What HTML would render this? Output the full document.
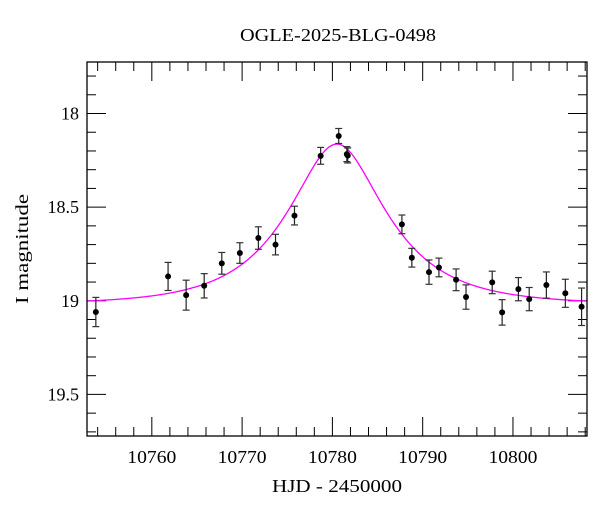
<!DOCTYPE html>
<html><head><meta charset="utf-8">
<style>
html,body{margin:0;padding:0;background:#fff;}
svg{display:block;font-family:"Liberation Serif",serif;}
</style></head>
<body>
<svg id="chart" width="600" height="512" viewBox="0 0 600 512" xmlns="http://www.w3.org/2000/svg">
<text x="338" y="41" text-anchor="middle" font-size="18" textLength="196" lengthAdjust="spacingAndGlyphs">OGLE-2025-BLG-0498</text>
<text x="337" y="492" text-anchor="middle" font-size="18" textLength="130" lengthAdjust="spacingAndGlyphs">HJD - 2450000</text>
<text transform="translate(28,249) rotate(-90)" text-anchor="middle" font-size="18" textLength="110" lengthAdjust="spacingAndGlyphs">I magnitude</text>
<g id="axes"></g>
<g id="model"></g>
<g id="points"></g>
<rect x="87" y="62" width="500" height="374" fill="none" stroke="#000" stroke-width="1.3"/>
</svg>
<script>
const times = [10753.8,10761.8,10763.8,10765.8,10767.75,10769.75,10771.8,10773.7,10775.8,10778.7,10780.7,10781.6,10781.7,10787.7,10788.8,10790.7,10791.8,10793.7,10794.8,10797.7,10798.8,10800.6,10801.8,10803.7,10805.8,10807.6];
const mags = [19.06,18.87,18.97,18.92,18.80,18.745,18.665,18.70,18.545,18.226,18.12,18.217,18.224,18.592,18.77,18.847,18.822,18.888,18.98,18.902,19.062,18.938,18.991,18.916,18.96,19.032];
const errs = [0.078,0.075,0.08,0.065,0.058,0.055,0.06,0.055,0.05,0.045,0.04,0.04,0.04,0.05,0.05,0.065,0.05,0.058,0.065,0.06,0.068,0.062,0.062,0.07,0.075,0.1];
const xTicks = [10760,10770,10780,10790,10800];
const yTicks = [18,18.5,19,19.5];
const modelParams = {t0:10780.5, u0:0.495, tE:9.4, base:19.02};

const L=87,R=587,T=62,B=436;
const xMin=10752.82,xMax=10808.2,yMin=17.725,yMax=19.722;
const X=t=>L+(t-xMin)/(xMax-xMin)*(R-L);
const Y=m=>T+(m-yMin)/(yMax-yMin)*(B-T);
const NS="http://www.w3.org/2000/svg";
function mk(tag,attrs,parent){const e=document.createElementNS(NS,tag);for(const k in attrs)e.setAttribute(k,attrs[k]);parent.appendChild(e);return e;}
const axes=document.getElementById('axes');
for(let t=10754;t<=10808;t+=2){
  const major=xTicks.includes(t);const len=major?19:9;const x=X(t);
  const a=mk('line',{x1:x,x2:x,y1:B,y2:B-len,stroke:'#000','stroke-width':1},axes);
  
  const b=mk('line',{x1:x,x2:x,y1:T,y2:T+len,stroke:'#000','stroke-width':1},axes);
  
}
xTicks.forEach(t=>{const e=mk('text',{x:X(t),y:463,'text-anchor':'middle','font-size':18,textLength:49,lengthAdjust:'spacingAndGlyphs'},axes);e.textContent=t;
  });
for(let i=18;i<=197;i++){const m=i/10;if(m<yMin||m>yMax)continue;
  const major=Math.abs(m*2-Math.round(m*2))<1e-6;const len=major?19:9;const y=Y(m);
  const a=mk('line',{x1:L,x2:L+len,y1:y,y2:y,stroke:'#000','stroke-width':1},axes);
  
  const b=mk('line',{x1:R,x2:R-len,y1:y,y2:y,stroke:'#000','stroke-width':1},axes);
  
}
yTicks.forEach(m=>{const e=mk('text',{x:79,y:Y(m)+6,'text-anchor':'end','font-size':18},axes);e.textContent=(m%1===0)?m:m.toFixed(1);
  });
function A(u){return (u*u+2)/(u*Math.sqrt(u*u+4));}
let d='';
for(let t=xMin;t<=xMax;t+=0.1){const tau=(t-modelParams.t0)/modelParams.tE;const u=Math.sqrt(modelParams.u0**2+tau*tau);
  const m=modelParams.base-2.5*Math.log10(A(u));d+=(d?'L':'M')+X(t).toFixed(2)+','+Y(m).toFixed(2);}
const path=mk('path',{d:d,fill:'none',stroke:'#ff00ff','stroke-width':1.3},document.getElementById('model'));


const pts=document.getElementById('points');
times.forEach((t,i)=>{const x=X(t),y=Y(mags[i]),y1=Y(mags[i]-errs[i]),y2=Y(mags[i]+errs[i]);
  const g=mk('g',{},pts);
  
  
  mk('line',{x1:x,x2:x,y1:y1,y2:y2,stroke:'#222','stroke-width':1.2},g);
  mk('line',{x1:x-3.5,x2:x+3.5,y1:y1,y2:y1,stroke:'#333','stroke-width':1.2},g);
  mk('line',{x1:x-3.5,x2:x+3.5,y1:y2,y2:y2,stroke:'#333','stroke-width':1.2},g);
  mk('circle',{cx:x,cy:y,r:3,fill:'#000'},g);
});
</script>
</body></html>
